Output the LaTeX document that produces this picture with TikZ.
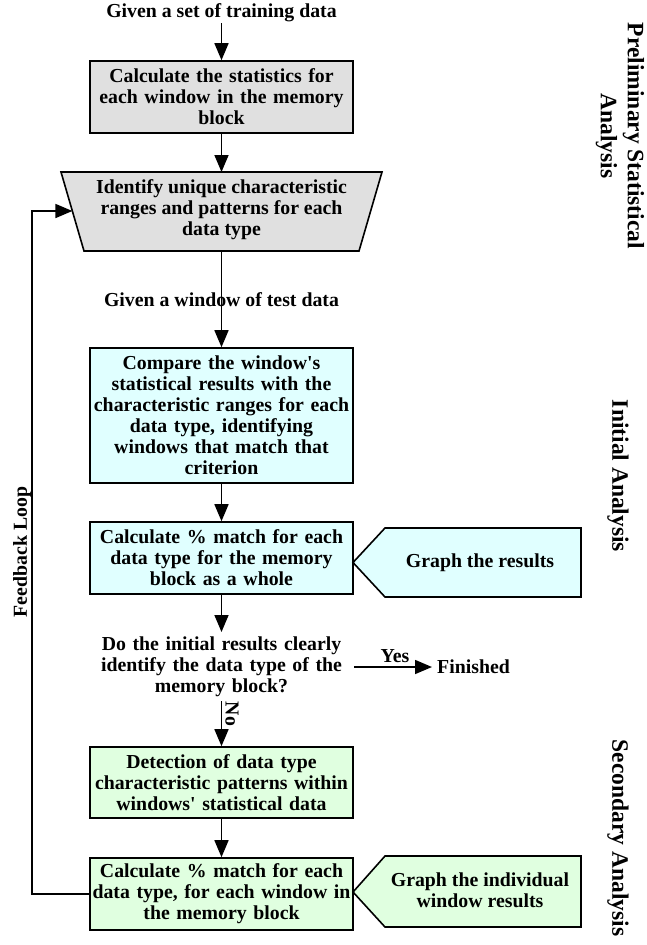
\documentclass[tikz,border=0pt]{standalone}
\usepackage{fontspec}
\setmainfont{Liberation Serif}[Ligatures=TeXOff]
\usetikzlibrary{arrows.meta}
\definecolor{boxgray}{HTML}{E0E0E0}
\definecolor{boxcyan}{HTML}{E0FFFF}
\definecolor{boxgreen}{HTML}{E0FFE0}
\begin{document}
\begin{tikzpicture}[x=1pt,y=1pt,
  txt/.style={font=\fontsize{19.8}{21}\selectfont\bfseries, align=center, inner sep=0pt},
  procbox/.style={txt, draw=black, line width=1.6pt, minimum width=263.5pt, text width=258pt},
  shapeline/.style={draw=black, line width=1.6pt},
  flow/.style={line width=1.6pt, -{Triangle[length=17pt,width=14pt]}},
  sidelabel/.style={font=\fontsize{23.5}{27}\selectfont\bfseries, align=center, inner sep=0pt, rotate=-90}
]
\useasboundingbox (0,0) rectangle (647,-945);

% title
\node[txt] (start) at (221.5,-13) {Given a set of training data};

% box 1
\node[procbox, fill=boxgray, minimum height=72pt] (b1) at (221.5,-97)
  {Calculate the statistics for\\each window in the memory\\block};

% trapezoid
\coordinate (tTL) at (61,-172);
\coordinate (tTR) at (382,-172);
\coordinate (tBR) at (359,-251);
\coordinate (tBL) at (84,-251);
\coordinate (trapTop) at (221.5,-172);
\coordinate (trapBot) at (221.5,-251);
\coordinate (trapLeft) at (72.4,-211);
\path[shapeline, fill=boxgray] (tTL) -- (tTR) -- (tBR) -- (tBL) -- cycle;
\node[txt] (trap) at (221.5,-209.5)
  {Identify unique characteristic\\ranges and patterns for each\\data type};

% box 2
\node[procbox, fill=boxcyan, minimum height=135pt] (b2) at (221.5,-415.5)
  {Compare the window's\\statistical results with the\\characteristic ranges for each\\data type, identifying\\windows that match that\\criterion};

% box 3
\node[procbox, fill=boxcyan, minimum height=72pt] (b3) at (221.5,-558)
  {Calculate \% match for each\\data type for the memory\\block as a whole};

% graph 1 pentagon
\path[shapeline, fill=boxcyan] (353,-562.5) -- (385,-528) -- (581,-528) -- (581,-597) -- (385,-597) -- cycle;
\node[txt] (g1) at (480,-562.5) {Graph the results};

% decision
\node[txt, text width=263pt] (q) at (221.5,-667)
  {Do the initial results clearly\\identify the data type of the\\memory block?};
\node[txt, anchor=west] (fin) at (437,-667) {Finished};

% box 4
\node[procbox, fill=boxgreen, minimum height=71pt] (b4) at (221.5,-782.5)
  {Detection of data type\\characteristic patterns within\\windows' statistical data};

% box 5
\node[procbox, fill=boxgreen, minimum height=72pt] (b5) at (221.5,-894)
  {Calculate \% match for each\\data type, for each window in\\the memory block};

% graph 2 pentagon
\path[shapeline, fill=boxgreen] (353,-892) -- (385,-856) -- (581,-856) -- (581,-927) -- (385,-927) -- cycle;
\node[txt] (g2) at (480,-890) {Graph the individual\\window results};

% connectors
\coordinate (a0) at (221.5,-23);
\draw[flow] (a0) -- (b1.north);
\draw[flow] (b1.south) -- (trapTop);
\draw[flow] (trapBot) -- (b2.north);
\node[txt] (test) at (221.5,-300) {Given a window of test data};
\draw[flow] (b2.south) -- (b3.north);
\coordinate (qtop) at (221.5,-632);
\draw[flow] (b3.south) -- (qtop);
\coordinate (qbot) at (221.5,-701);
\draw[flow] (qbot) -- (b4.north);
\node[txt, rotate=-90] (no) at (232,-714) {No};
\coordinate (yesStart) at (354,-667);
\draw[flow, shorten >=5pt] (yesStart) -- (fin.west);
\node[txt] (yes) at (395,-656) {Yes};
\draw[flow] (b4.south) -- (b5.north);
\coordinate (fbBot) at (32,-894);
\coordinate (fbTop) at (32,-211);
\draw[flow] (b5.west) -- (fbBot) -- (fbTop) -- (trapLeft);
\node[txt, rotate=90] (fb) at (22,-552) {Feedback Loop};

% side labels
\node[sidelabel] (l1) at (620,-136) {Preliminary Statistical\\Analysis};
\node[sidelabel] (l2) at (618,-476) {Initial Analysis};
\node[sidelabel] (l3) at (618,-838) {Secondary Analysis};
\end{tikzpicture}
\end{document}
